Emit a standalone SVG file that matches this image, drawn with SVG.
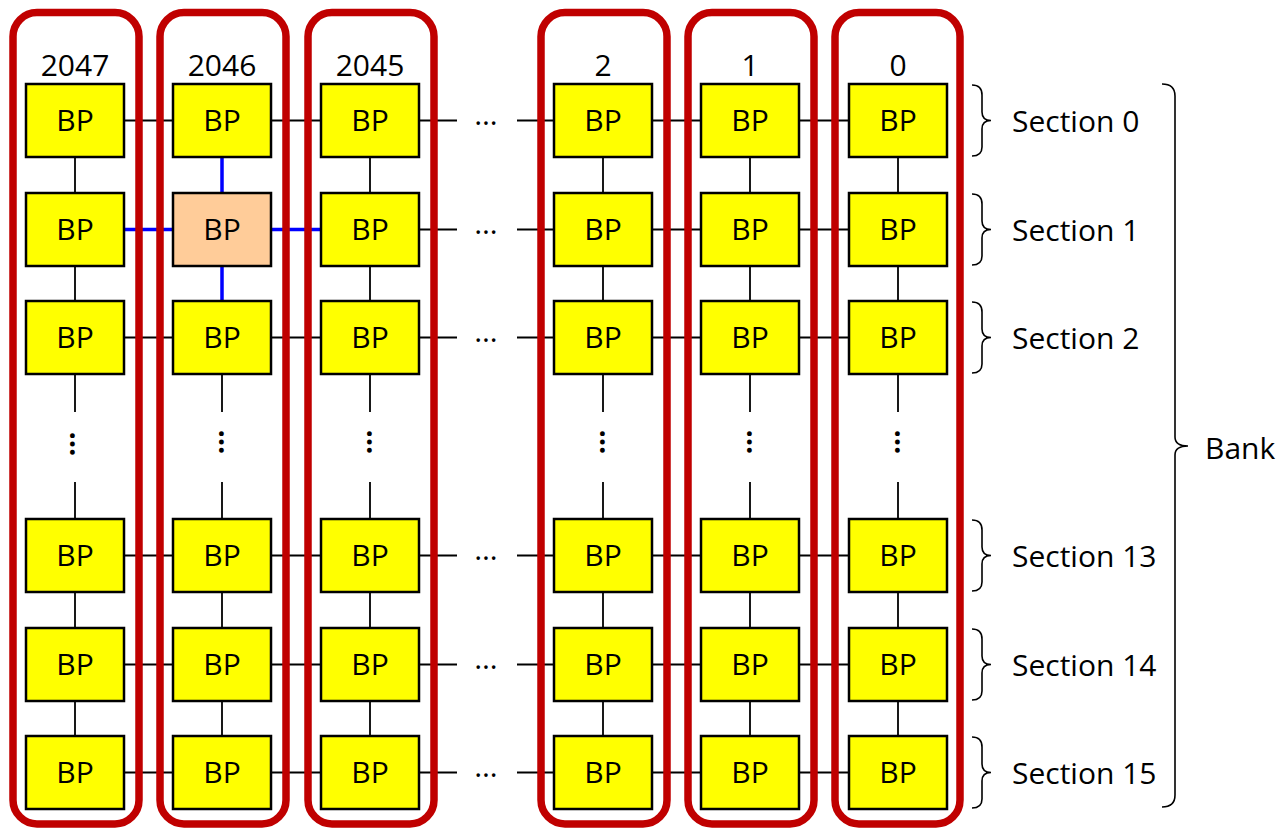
<svg xmlns="http://www.w3.org/2000/svg" width="1276" height="830" viewBox="0 0 1276 830">
<style>
.col{fill:none;stroke:#C00000;stroke-width:7.5}
.bp{fill:#FFFF00;stroke:#000;stroke-width:2.5}
.hl{fill:#FFCC99;stroke:#000;stroke-width:2.5}
.t{font-family:"Open Sans","Liberation Sans",sans-serif;font-size:30px;fill:#000}
.m{text-anchor:middle}
.c{stroke:#000;stroke-width:1.8;fill:none}
.b{stroke:#0000FF;stroke-width:3.5;fill:none}
.br{stroke:#000;stroke-width:1.6;fill:none}
</style>
<rect width="1276" height="830" fill="#fff"/>
<g id="connectors">
<path class="c" d="M124,120.5H173M272,120.5H321M419,120.5H457M517,120.5H554M652,120.5H701M799,120.5H849"/>
<path class="c" d="M419,229.5H457M517,229.5H554M652,229.5H701M799,229.5H849"/>
<path class="b" d="M124,229.5H173M272,229.5H321"/>
<path class="c" d="M124,337.5H173M272,337.5H321M419,337.5H457M517,337.5H554M652,337.5H701M799,337.5H849"/>
<path class="c" d="M124,555.5H173M272,555.5H321M419,555.5H457M517,555.5H554M652,555.5H701M799,555.5H849"/>
<path class="c" d="M124,664.5H173M272,664.5H321M419,664.5H457M517,664.5H554M652,664.5H701M799,664.5H849"/>
<path class="c" d="M124,772.5H173M272,772.5H321M419,772.5H457M517,772.5H554M652,772.5H701M799,772.5H849"/>
<path class="c" d="M75,157V193M75,266V301M75,374V412M75,482V519M75,592V628M75,701V736"/>
<path class="b" d="M222,157V193M222,266V301"/>
<path class="c" d="M222,374V412M222,482V519M222,592V628M222,701V736"/>
<path class="c" d="M370,157V193M370,266V301M370,374V412M370,482V519M370,592V628M370,701V736"/>
<path class="c" d="M603,157V193M603,266V301M603,374V412M603,482V519M603,592V628M603,701V736"/>
<path class="c" d="M750,157V193M750,266V301M750,374V412M750,482V519M750,592V628M750,701V736"/>
<path class="c" d="M898,157V193M898,266V301M898,374V412M898,482V519M898,592V628M898,701V736"/>
<g class="t m">
<text x="486" y="125">…</text>
<text x="486" y="234">…</text>
<text x="486" y="342">…</text>
<text x="486" y="560">…</text>
<text x="486" y="669">…</text>
<text x="486" y="777">…</text>
</g>
<g class="t m" style="font-size:29px;font-weight:bold">
<text transform="translate(72,444) rotate(90)" y="2.5">…</text>
<text transform="translate(221,442) rotate(90)" y="2.5">…</text>
<text transform="translate(369,442) rotate(90)" y="2.5">…</text>
<text transform="translate(602,442) rotate(90)" y="2.5">…</text>
<text transform="translate(749,442) rotate(90)" y="2.5">…</text>
<text transform="translate(897,442) rotate(90)" y="2.5">…</text>
</g>
</g>
<g id="col-2047">
<rect class="col" x="13" y="12.5" width="126" height="811.5" rx="24"/>
<text class="t m" x="75" y="76">2047</text>
<g id="bp-2047-0"><rect class="bp" x="26" y="84" width="98" height="73"/><text class="t m" x="75" y="131">BP</text></g>
<g id="bp-2047-1"><rect class="bp" x="26" y="193" width="98" height="73"/><text class="t m" x="75" y="240">BP</text></g>
<g id="bp-2047-2"><rect class="bp" x="26" y="301" width="98" height="73"/><text class="t m" x="75" y="348">BP</text></g>
<g id="bp-2047-13"><rect class="bp" x="26" y="519" width="98" height="73"/><text class="t m" x="75" y="566">BP</text></g>
<g id="bp-2047-14"><rect class="bp" x="26" y="628" width="98" height="73"/><text class="t m" x="75" y="675">BP</text></g>
<g id="bp-2047-15"><rect class="bp" x="26" y="736" width="98" height="73"/><text class="t m" x="75" y="783">BP</text></g>
</g>
<g id="col-2046">
<rect class="col" x="160" y="12.5" width="126" height="811.5" rx="24"/>
<text class="t m" x="222" y="76">2046</text>
<g id="bp-2046-0"><rect class="bp" x="173" y="84" width="98" height="73"/><text class="t m" x="222" y="131">BP</text></g>
<g id="bp-2046-1"><rect class="hl" x="173" y="193" width="98" height="73"/><text class="t m" x="222" y="240">BP</text></g>
<g id="bp-2046-2"><rect class="bp" x="173" y="301" width="98" height="73"/><text class="t m" x="222" y="348">BP</text></g>
<g id="bp-2046-13"><rect class="bp" x="173" y="519" width="98" height="73"/><text class="t m" x="222" y="566">BP</text></g>
<g id="bp-2046-14"><rect class="bp" x="173" y="628" width="98" height="73"/><text class="t m" x="222" y="675">BP</text></g>
<g id="bp-2046-15"><rect class="bp" x="173" y="736" width="98" height="73"/><text class="t m" x="222" y="783">BP</text></g>
</g>
<g id="col-2045">
<rect class="col" x="308" y="12.5" width="126" height="811.5" rx="24"/>
<text class="t m" x="370" y="76">2045</text>
<g id="bp-2045-0"><rect class="bp" x="321" y="84" width="98" height="73"/><text class="t m" x="370" y="131">BP</text></g>
<g id="bp-2045-1"><rect class="bp" x="321" y="193" width="98" height="73"/><text class="t m" x="370" y="240">BP</text></g>
<g id="bp-2045-2"><rect class="bp" x="321" y="301" width="98" height="73"/><text class="t m" x="370" y="348">BP</text></g>
<g id="bp-2045-13"><rect class="bp" x="321" y="519" width="98" height="73"/><text class="t m" x="370" y="566">BP</text></g>
<g id="bp-2045-14"><rect class="bp" x="321" y="628" width="98" height="73"/><text class="t m" x="370" y="675">BP</text></g>
<g id="bp-2045-15"><rect class="bp" x="321" y="736" width="98" height="73"/><text class="t m" x="370" y="783">BP</text></g>
</g>
<g id="col-2">
<rect class="col" x="541" y="12.5" width="126" height="811.5" rx="24"/>
<text class="t m" x="603" y="76">2</text>
<g id="bp-2-0"><rect class="bp" x="554" y="84" width="98" height="73"/><text class="t m" x="603" y="131">BP</text></g>
<g id="bp-2-1"><rect class="bp" x="554" y="193" width="98" height="73"/><text class="t m" x="603" y="240">BP</text></g>
<g id="bp-2-2"><rect class="bp" x="554" y="301" width="98" height="73"/><text class="t m" x="603" y="348">BP</text></g>
<g id="bp-2-13"><rect class="bp" x="554" y="519" width="98" height="73"/><text class="t m" x="603" y="566">BP</text></g>
<g id="bp-2-14"><rect class="bp" x="554" y="628" width="98" height="73"/><text class="t m" x="603" y="675">BP</text></g>
<g id="bp-2-15"><rect class="bp" x="554" y="736" width="98" height="73"/><text class="t m" x="603" y="783">BP</text></g>
</g>
<g id="col-1">
<rect class="col" x="688" y="12.5" width="126" height="811.5" rx="24"/>
<text class="t m" x="750" y="76">1</text>
<g id="bp-1-0"><rect class="bp" x="701" y="84" width="98" height="73"/><text class="t m" x="750" y="131">BP</text></g>
<g id="bp-1-1"><rect class="bp" x="701" y="193" width="98" height="73"/><text class="t m" x="750" y="240">BP</text></g>
<g id="bp-1-2"><rect class="bp" x="701" y="301" width="98" height="73"/><text class="t m" x="750" y="348">BP</text></g>
<g id="bp-1-13"><rect class="bp" x="701" y="519" width="98" height="73"/><text class="t m" x="750" y="566">BP</text></g>
<g id="bp-1-14"><rect class="bp" x="701" y="628" width="98" height="73"/><text class="t m" x="750" y="675">BP</text></g>
<g id="bp-1-15"><rect class="bp" x="701" y="736" width="98" height="73"/><text class="t m" x="750" y="783">BP</text></g>
</g>
<g id="col-0">
<rect class="col" x="835" y="12.5" width="125" height="811.5" rx="24"/>
<text class="t m" x="898" y="76">0</text>
<g id="bp-0-0"><rect class="bp" x="849" y="84" width="98" height="73"/><text class="t m" x="898" y="131">BP</text></g>
<g id="bp-0-1"><rect class="bp" x="849" y="193" width="98" height="73"/><text class="t m" x="898" y="240">BP</text></g>
<g id="bp-0-2"><rect class="bp" x="849" y="301" width="98" height="73"/><text class="t m" x="898" y="348">BP</text></g>
<g id="bp-0-13"><rect class="bp" x="849" y="519" width="98" height="73"/><text class="t m" x="898" y="566">BP</text></g>
<g id="bp-0-14"><rect class="bp" x="849" y="628" width="98" height="73"/><text class="t m" x="898" y="675">BP</text></g>
<g id="bp-0-15"><rect class="bp" x="849" y="736" width="98" height="73"/><text class="t m" x="898" y="783">BP</text></g>
</g>
<g id="sections">
<path class="br" d="M972,85Q982,85 982,95V112Q982,120.5 991,120.5Q982,120.5 982,129V147Q982,156 972,156"/>
<text class="t" x="1012" y="132">Section 0</text>
<path class="br" d="M972,194Q982,194 982,204V221Q982,229.5 991,229.5Q982,229.5 982,238V256Q982,265 972,265"/>
<text class="t" x="1012" y="241">Section 1</text>
<path class="br" d="M972,302Q982,302 982,312V329Q982,337.5 991,337.5Q982,337.5 982,346V364Q982,373 972,373"/>
<text class="t" x="1012" y="349">Section 2</text>
<path class="br" d="M972,520Q982,520 982,530V547Q982,555.5 991,555.5Q982,555.5 982,564V582Q982,591 972,591"/>
<text class="t" x="1012" y="567">Section 13</text>
<path class="br" d="M972,629Q982,629 982,639V656Q982,664.5 991,664.5Q982,664.5 982,673V691Q982,700 972,700"/>
<text class="t" x="1012" y="676">Section 14</text>
<path class="br" d="M972,737Q982,737 982,747V764Q982,772.5 991,772.5Q982,772.5 982,781V799Q982,808 972,808"/>
<text class="t" x="1012" y="784">Section 15</text>
</g>
<g id="bank">
<path class="br" d="M1162,84Q1175,84 1175,96V437Q1175,446 1188,446Q1175,446 1175,455V795Q1175,807 1162,807"/>
<text class="t" x="1205" y="459">Bank</text>
</g>
</svg>
